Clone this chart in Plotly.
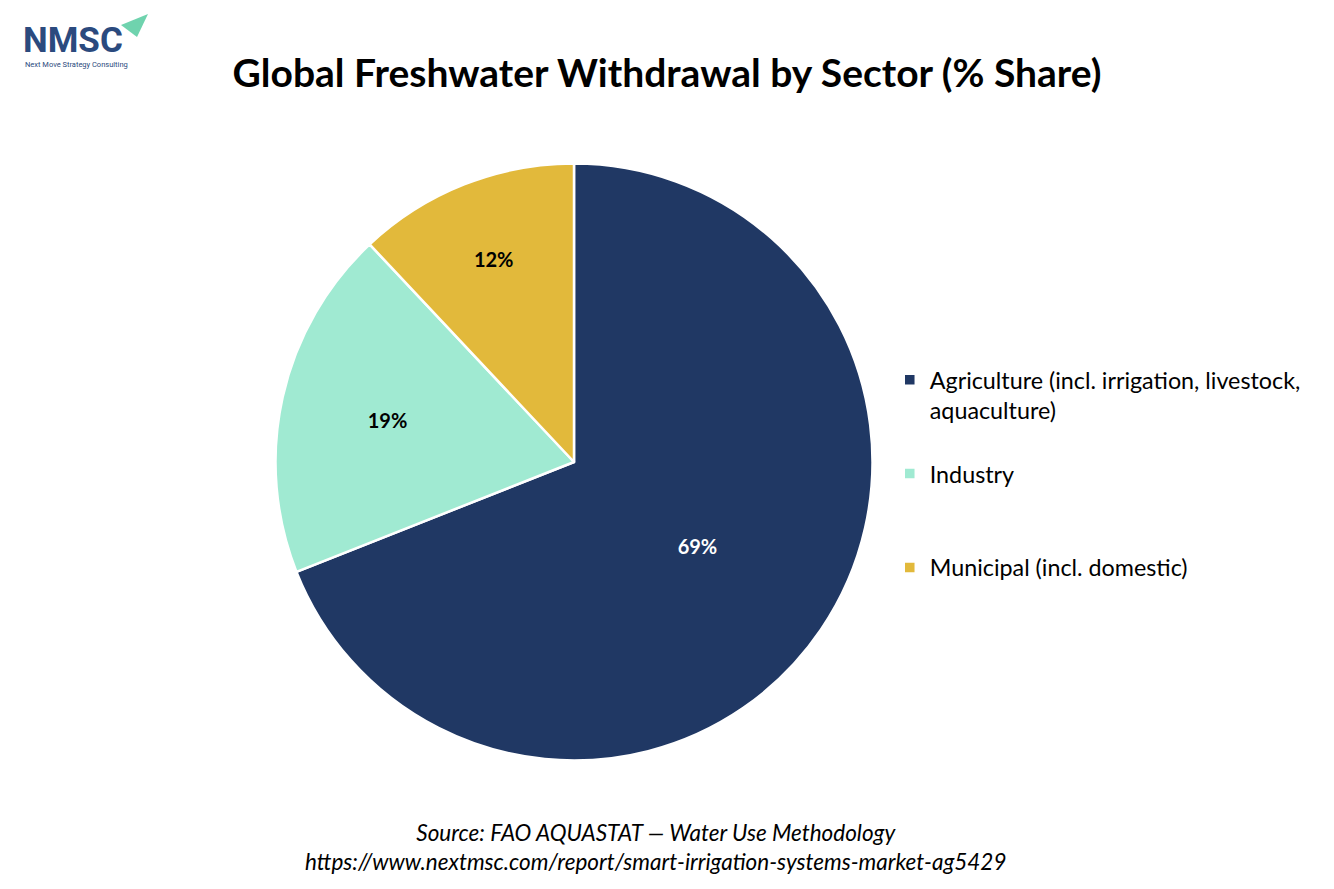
import plotly.graph_objects as go

sectors = [
    "Agriculture (incl. irrigation, livestock,<br>aquaculture)<br> ",
    "Industry<br> <br> ",
    "Municipal (incl. domestic)",
]
shares = [69, 19, 12]
colors = ["#203864", "#A0EAD2", "#E2B93B"]
label_colors = ["white", "black", "black"]

# the page body adds an 8px margin, so paper positions are shifted back by it
OFF = 8
W, H = 1334, 889


def px(x):
    return (x - OFF) / W


def py(y):
    return 1 - (y - OFF) / H


fig = go.Figure(
    go.Pie(
        labels=sectors,
        values=shares,
        sort=False,
        direction="clockwise",
        rotation=0,
        marker=dict(colors=colors, line=dict(color="white", width=2.5)),
        texttemplate="%{value}%",
        textposition="inside",
        insidetextorientation="horizontal",
        textfont=dict(family="Lato", size=20, color=label_colors, weight="bold"),
        hoverinfo="label+percent",
        domain=dict(x=[px(275.5), px(872.5)], y=[py(760.5), py(163.5)]),
    )
)

fig.update_layout(
    width=W,
    height=H,
    margin=dict(l=0, r=0, t=0, b=0),
    paper_bgcolor="white",
    plot_bgcolor="white",
    font=dict(family="Lato", color="black"),
    title=dict(
        text="<b>Global Freshwater Withdrawal by Sector (% Share)</b>",
        x=px(667),
        xanchor="center",
        y=py(73),
        yanchor="middle",
        font=dict(size=39, color="black"),
    ),
    legend=dict(
        x=0.661,
        xanchor="left",
        y=py(358),
        yanchor="top",
        valign="top",
        font=dict(size=23.3, color="black"),
        itemwidth=30,
    ),
)

# source lines
fig.add_annotation(
    text="<i>Source: FAO AQUASTAT — Water Use Methodology</i><br>"
         "<i>https://www.nextmsc.com/report/smart-irrigation-systems-market-ag5429</i>",
    x=px(655), y=py(847), xref="paper", yref="paper",
    xanchor="center", yanchor="middle", showarrow=False,
    font=dict(size=22.5, color="black"),
)

# logo
fig.add_annotation(
    text="<b>NMSC</b>", x=px(21), y=py(40), xref="paper", yref="paper",
    xanchor="left", yanchor="middle", showarrow=False,
    font=dict(family="Roboto", size=35, color="#2B4A7E"),
)
fig.add_annotation(
    text="Next Move Strategy Consulting", x=px(23), y=py(64),
    xref="paper", yref="paper", xanchor="left", yanchor="middle", showarrow=False,
    font=dict(family="Roboto", size=7.5, color="#2B4A7E"),
)
fig.add_shape(
    type="path", xref="paper", yref="paper",
    path="M %f %f L %f %f L %f %f Z" % (
        px(121), py(25), px(148), py(14), px(137), py(37)),
    fillcolor="#6FD3AE", line=dict(width=0),
)

fig.write_html("out.html")
